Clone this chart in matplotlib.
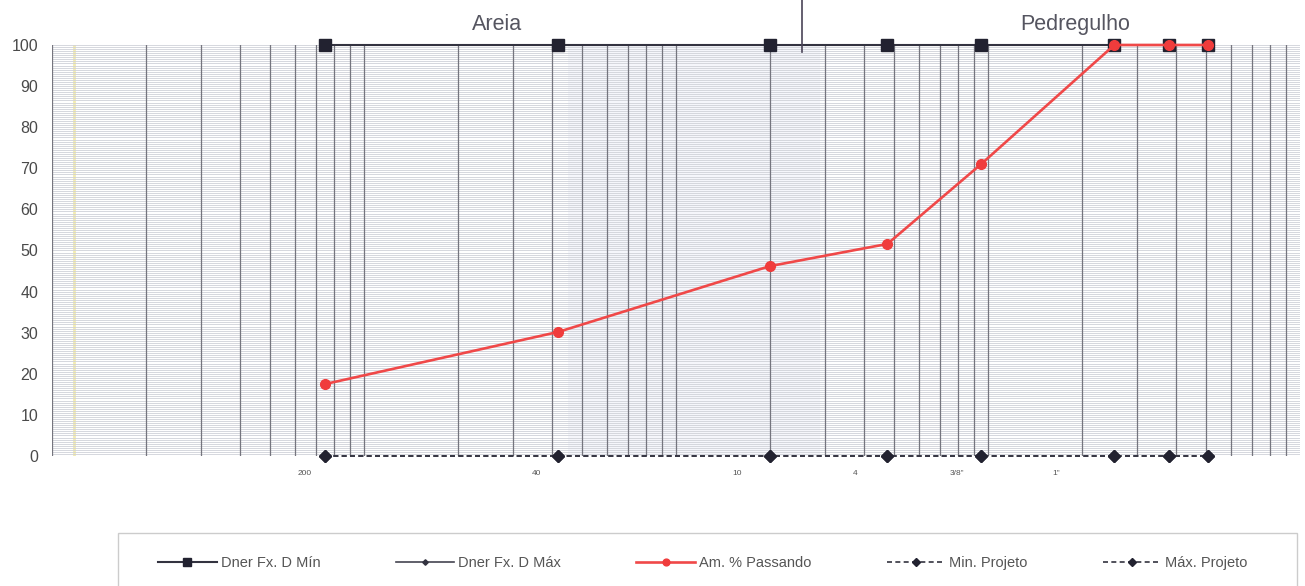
import matplotlib
matplotlib.use("Agg")
import matplotlib.pyplot as plt
from matplotlib.patches import Rectangle
import numpy as np

plt.rcParams['font.family'] = ['Liberation Sans', 'DejaVu Sans']

# sieve openings (mm): #200, #40, #10, #4, 3/8", 1", 1 1/2", 2"
sieve_mm = [0.075, 0.42, 2.0, 4.76, 9.5, 25.4, 38.1, 50.8]
dner_min = [100, 100, 100, 100, 100, 100, 100, 100]
dner_max = [100, 100, 100, 100, 100, 100, 100, 100]
passando = [17.5, 30.2, 46.2, 51.6, 71.0, 100, 100, 100]
min_projeto = [0, 0, 0, 0, 0, 0, 0, 0]
max_projeto = [0, 0, 0, 0, 0, 0, 0, 0]

tick_labels = ["200", "40", "10", "4", "3/8\"", "1\""]
tick_pos_mm = [0.0647, 0.358, 1.57, 3.75, 7.96, 16.5]
y_ticks = [0, 10, 20, 30, 40, 50, 60, 70, 80, 90, 100]

fig = plt.figure(figsize=(13.05, 5.86), dpi=100)
ax = fig.add_axes([52/1305, 130/586, 1248/1305, 411/586])
ax.set_xscale('log')
ax.set_xlim(0.01, 100)
ax.set_ylim(0, 100)

# background scan tints
ax.axvspan(0.45, 2.9, color='#eceef9', alpha=0.5, zorder=0, lw=0)
ax.axvline(0.0118, color='#f3ecb0', lw=2, zorder=0)

# horizontal fine grid
for yv in np.arange(0, 100.01, 0.5):
    ax.axhline(yv, color='#cfd1d8', lw=0.6, zorder=1)
# vertical log grid
for dec in [0.01, 0.1, 1, 10]:
    for m in range(1, 10):
        ax.axvline(dec*m, color='#75757e', lw=0.9, zorder=1)

for s in ax.spines.values():
    s.set_visible(False)
ax.tick_params(length=0)
ax.set_yticks(y_ticks)
ax.set_yticklabels([str(v) for v in y_ticks], fontsize=11.5, color='#4a4a4a')
ax.tick_params(axis='y', pad=10)
ax.set_xticks(tick_pos_mm)
ax.set_xticklabels(tick_labels, fontsize=6, color='#555555')
ax.xaxis.set_minor_locator(matplotlib.ticker.NullLocator())
ax.tick_params(axis='x', pad=10)

l1, = ax.plot(sieve_mm, dner_min, color='#333340', lw=1.5, marker='s', ms=9,
              mfc='#222230', mec='#222230', zorder=4, clip_on=False)
l2, = ax.plot(sieve_mm, dner_max, color='#444450', lw=1.2, marker='D', ms=4,
              mfc='#333340', mec='#333340', zorder=3, clip_on=False)
l4, = ax.plot(sieve_mm, min_projeto, color='#333340', lw=1.2, ls=(0, (3, 2)), marker='D', ms=6,
              mfc='#222230', mec='#222230', zorder=4, clip_on=False)
l5, = ax.plot(sieve_mm, max_projeto, color='#333340', lw=1.2, ls=(0, (3, 2)), marker='D', ms=6,
              mfc='#222230', mec='#222230', zorder=4, clip_on=False)
l3, = ax.plot(sieve_mm, passando, color='#f04848', lw=1.9, marker='o', ms=7,
              mfc='#f03c3c', mec='#f03c3c', zorder=5, clip_on=False)

# divider between sand and gravel
ax.plot([2.53, 2.53], [98.3, 111], color='#4a4458', lw=1.2, clip_on=False, zorder=6)
ax.text(0.267, 105.0, 'Areia', ha='center', va='center', fontsize=15.5, color='#555560')
ax.text(19.1, 105.0, 'Pedregulho', ha='center', va='center', fontsize=15.5, color='#555560')

# legend frame
fig.patches.append(Rectangle((118/1305, -0.05), 1179/1305, 0.05 + 1 - 533/586,
                             transform=fig.transFigure, facecolor='white',
                             edgecolor='#cccccc', lw=1.0, zorder=0))
leg = fig.legend(handles=[l1, l2, l3, l4, l5],
                 labels=['Dner Fx. D Mín', 'Dner Fx. D Máx', 'Am. % Passando', 'Min. Projeto', 'Máx. Projeto'],
                 loc='center', bbox_to_anchor=(703/1305, 1 - 563/586),
                 ncol=5, frameon=False, fontsize=10.5,
                 handlelength=4.0, handletextpad=0.3, columnspacing=5.15,
                 labelcolor='#555555', markerscale=0.7)

fig.savefig('out.png', dpi=100)
